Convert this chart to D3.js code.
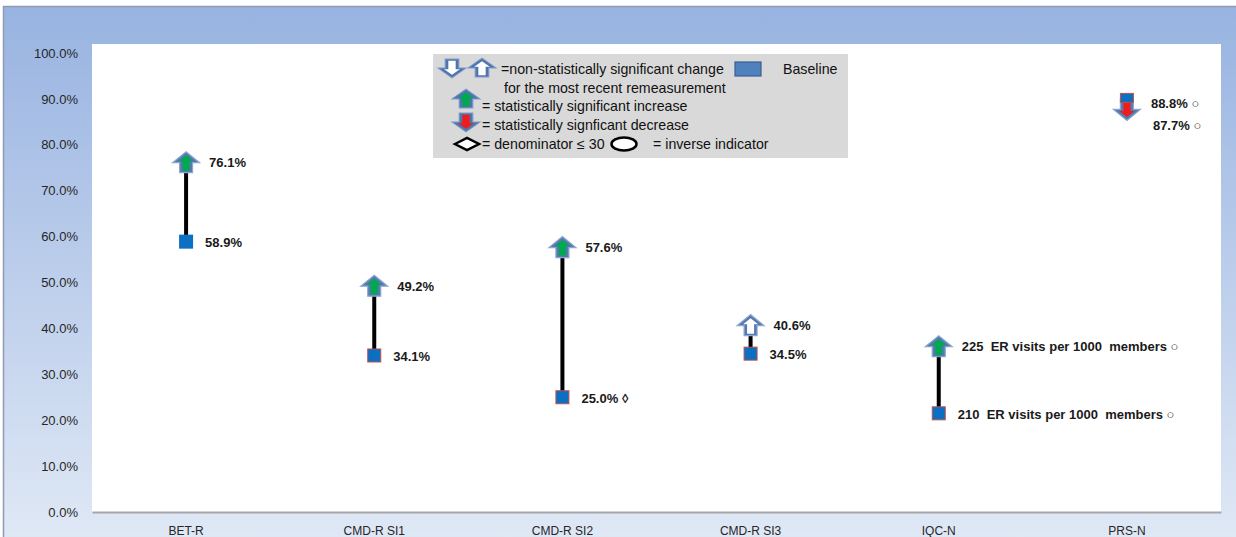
<!DOCTYPE html>
<html><head><meta charset="utf-8">
<script src="https://cdn.jsdelivr.net/npm/d3@7"></script>
<style>
body{margin:0;background:#fff;}
svg{display:block;font-family:"Liberation Sans",Arial,sans-serif;}
text{white-space:pre;}
</style>
</head><body>
<svg id="c" width="1236" height="537"></svg>
<script>
// ---- data ----
const categories = ["BET-R","CMD-R SI1","CMD-R SI2","CMD-R SI3","IQC-N","PRS-N"];
const baseline = [58.9, 34.1, 25.0, 34.5, 21.5, 88.8];
const recent = [76.1, 49.2, 57.6, 40.6, 36.0, 87.7];
const baselineLabels = ["58.9%","34.1%","25.0% \u25CA","34.5%","210  ER visits per 1000  members \u25CB","88.8% \u25CB"];
const recentLabels = ["76.1%","49.2%","57.6%","40.6%","225  ER visits per 1000  members \u25CB","87.7% \u25CB"];
const changeType = ["sigUp","sigUp","sigUp","nsUp","sigUp","sigDown"];
const yTicks = [0,10,20,30,40,50,60,70,80,90,100];

// ---- layout ----
const svg = d3.select("#c");
const W = 1236, H = 537;
const plot = {l:92, r:1221, t:44, b:512};

const defs = svg.append("defs");
const g = defs.append("linearGradient").attr("id","bg").attr("x1",0).attr("y1",0).attr("x2",0).attr("y2",1);
g.append("stop").attr("offset","0%").attr("stop-color","#98b3e1");
g.append("stop").attr("offset","100%").attr("stop-color","#dfe8f5");
const f = defs.append("filter").attr("id","soft").attr("x","-30%").attr("y","-30%").attr("width","160%").attr("height","160%");
f.append("feGaussianBlur").attr("stdDeviation",0.6);

svg.append("rect").attr("x",3).attr("y",6).attr("width",W-3).attr("height",H-6).attr("fill","url(#bg)");
svg.append("line").attr("x1",3).attr("x2",W).attr("y1",6.5).attr("y2",6.5).attr("stroke","#8e9cb3").attr("stroke-width",1.5);
svg.append("line").attr("x1",3.5).attr("x2",3.5).attr("y1",6).attr("y2",H).attr("stroke","#8e9cb3").attr("stroke-width",1.5);

svg.append("rect").attr("x",plot.l).attr("y",plot.t).attr("width",plot.r-plot.l).attr("height",plot.b-plot.t).attr("fill","#fff");

const x = d3.scaleBand().domain(categories).range([plot.l, plot.r]);
const y = d3.scaleLinear().domain([0,100]).range([plot.b, 53]);
const cx = c => x(c) + x.bandwidth()/2;

// y axis
const ya = svg.append("g").attr("transform",`translate(${plot.l},0)`)
  .call(d3.axisLeft(y).tickValues(yTicks).tickFormat(d => d.toFixed(1)+"%").tickSize(0).tickPadding(14));
ya.select(".domain").remove();
ya.selectAll("text").attr("font-size",13).attr("fill","#262626").attr("font-family","Liberation Sans, Arial, sans-serif");

// x axis
const xa = svg.append("g").attr("transform",`translate(0,${plot.b})`)
  .call(d3.axisBottom(x).tickSize(0).tickPadding(14));
xa.select(".domain").attr("stroke","#a6a6a6").attr("stroke-width",2);
xa.selectAll("text").attr("font-size",12).attr("fill","#262626").attr("font-family","Liberation Sans, Arial, sans-serif");

// arrow shapes (pointing up, centered at 0,0)
const outerUp = "M-6.5,10 L-6.5,0 L-13.5,0 L0,-11 L13.5,0 L6.5,0 L6.5,10 Z";
const innerUp = "M-3.5,8 L-3.5,-1.5 L-7.5,-1.5 L0,-7.5 L7.5,-1.5 L3.5,-1.5 L3.5,8 Z";
function drawArrow(sel, px, py, dir, inner){
  const a = sel.append("g").attr("transform",`translate(${px},${py}) scale(1,${dir==="down"?-1:1})`);
  a.append("path").attr("d",outerUp).attr("fill","#5479b1").attr("stroke","#8ea7cf").attr("stroke-width",1.2).attr("filter","url(#soft)");
  a.append("path").attr("d",innerUp).attr("fill",inner);
  return a;
}

const marks = svg.append("g");
categories.forEach((c,i) => {
  const px = cx(c), yb = y(baseline[i]), yr = y(recent[i]);
  marks.append("line").attr("x1",px).attr("x2",px).attr("y1",yb).attr("y2",yr)
    .attr("stroke","#000").attr("stroke-width",4);
});
categories.forEach((c,i) => {
  const px = cx(c), yr = y(recent[i]);
  const t = changeType[i];
  const dir = t === "sigDown" ? "down" : "up";
  const inner = t === "sigUp" ? "#00a84f" : t === "sigDown" ? "#ee1c1c" : "#ffffff";
  drawArrow(marks, px, yr, dir, inner);
});
categories.forEach((c,i) => {
  const px = cx(c), yb = y(baseline[i]);
  const s = marks.append("rect").attr("x",px-7).attr("y",yb-7).attr("width",14).attr("height",14)
    .attr("fill","#0b6fc2");
  if (i>0) s.attr("stroke","#c0504d").attr("stroke-width",1).attr("x",px-6.5).attr("y",yb-6.5).attr("width",13).attr("height",13);
  if (changeType[i]==="sigDown") s.attr("y",yb-11).attr("height",9);
});

// value labels
const lab = svg.append("g").attr("font-weight","bold").attr("font-size",13).attr("fill","#1a1a1a");
categories.forEach((c,i) => {
  const px = cx(c);
  const dec = recent[i] < baseline[i];
  lab.append("text").attr("x",px + (dec?26:23)).attr("y",y(recent[i]) + (dec?16:0)).attr("dy","0.35em").text(recentLabels[i]);
  lab.append("text").attr("x",px + (dec?24:19)).attr("y",y(baseline[i]) + (dec?-1:1)).attr("dy","0.35em").text(baselineLabels[i]);
});

// legend
const lg = svg.append("g").attr("font-size",14.2).attr("fill","#111");
lg.append("rect").attr("x",433).attr("y",54).attr("width",415).attr("height",104).attr("fill","#d9d9d9");
function legArrow(px,py,dir,inner){
  const a = lg.append("g").attr("transform",`translate(${px},${py}) scale(1.05,${dir==="down"?-0.9:0.9})`);
  a.append("path").attr("d",outerUp).attr("fill","#4f74ad").attr("stroke","#7f9bc8").attr("stroke-width",1).attr("filter","url(#soft)");
  a.append("path").attr("d",innerUp).attr("fill",inner);
}
legArrow(452,68,"down","#fff");
legArrow(482,68,"up","#fff");
lg.append("text").attr("x",501).attr("y",69).attr("dy","0.35em").text("=non-statistically significant change");
lg.append("rect").attr("x",735).attr("y",62).attr("width",26).attr("height",14).attr("fill","#4f81bd").attr("stroke","#3a5f8f").attr("stroke-width",1.2);
lg.append("text").attr("x",783).attr("y",69).attr("dy","0.35em").text("Baseline");
lg.append("text").attr("x",504).attr("y",88).attr("dy","0.35em").text("for the most recent remeasurement");
legArrow(466,99,"up","#00a84f");
lg.append("text").attr("x",482).attr("y",106).attr("dy","0.35em").text("= statistically significant increase");
legArrow(466,122,"down","#ee1c1c");
lg.append("text").attr("x",482).attr("y",125).attr("dy","0.35em").text("= statistically signficant decrease");
lg.append("path").attr("d","M455,144 L467,138 L479,144 L467,150 Z").attr("fill","#fff").attr("stroke","#000").attr("stroke-width",2.5);
lg.append("text").attr("x",482).attr("y",144).attr("dy","0.35em").text("= denominator \u2264 30");
lg.append("ellipse").attr("cx",624).attr("cy",144).attr("rx",12.5).attr("ry",6.5).attr("fill","#fff").attr("stroke","#000").attr("stroke-width",2.5);
lg.append("text").attr("x",653).attr("y",144).attr("dy","0.35em").text("= inverse indicator");
</script>
</body></html>
